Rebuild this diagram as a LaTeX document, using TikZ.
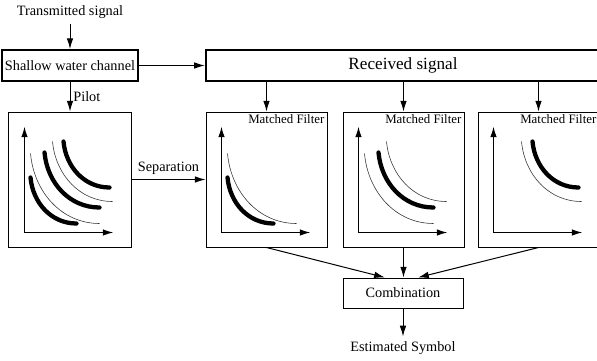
\documentclass[tikz,border=0pt]{standalone}
\usepackage{fontspec}
\setmainfont{Liberation Serif}
\usetikzlibrary{arrows.meta,calc,positioning}

\begin{document}
\begin{tikzpicture}[x=0.7pt,y=-0.7pt,
    >={Latex[length=7.5pt,width=4.6pt]},
    blk/.style={draw,line width=1.6pt,inner sep=2pt,minimum height=21.5pt},
    plotbox/.style={draw,line width=0.7pt,minimum width=84.7pt,minimum height=94.5pt},
    conn/.style={->,line width=0.7pt},
    axis/.style={{Latex[length=7.5pt,width=4.6pt]}-{Latex[length=7.5pt,width=4.6pt]},line width=0.9pt},
    fatcurve/.style={line width=3pt,line cap=round},
    thincurve/.style={line width=0.4pt,black!80}]
    \useasboundingbox (0,0) rectangle (597,360);
    \node (tx) at (70,12) {Transmitted signal};
    \node[blk,minimum width=95.2pt] (chan) at (70,65.5) {Shallow water channel};
    \node[blk,minimum width=275.8pt,font=\large] (rx) at (403,65.5) {Received signal};
    \node[plotbox,minimum width=85.4pt] (pilot) at (70,179.5) {};
    \node[plotbox] (mf1) at (266.5,179.5) {};
    \node[plotbox] (mf2) at (403.5,179.5) {};
    \node[plotbox] (mf3) at (538.5,179.5) {};
    \node[draw,line width=0.7pt,minimum width=84pt,minimum height=21pt] (comb) at (403,293) {Combination};
    \node (est) at (403,348) {Estimated Symbol};
    \foreach \b in {mf1,mf2,mf3} \node[font=\small,anchor=north east,inner sep=2pt] (\b-lbl) at (\b.north east) {Matched Filter};
    % axes and channel curves in each box
    \foreach \b in {pilot,mf1,mf2,mf3} \draw[axis,shift={(\b.north west)}] (16,15) -- (16,121) -- (105,121);
    \foreach \b/\s/\x/\y/\X/\Y in {pilot/fatcurve/22/66/68/112, pilot/thincurve/22/42/91/112,
        pilot/fatcurve/36/41/91/96, pilot/thincurve/44/30/104/90, pilot/fatcurve/55/30/101/76,
        mf1/fatcurve/22/66/68/112, mf1/thincurve/22/42/91/112,
        mf2/thincurve/22/42/91/112, mf2/fatcurve/36/41/91/96, mf2/thincurve/44/30/104/90,
        mf3/thincurve/44/30/104/90, mf3/fatcurve/55/30/101/76}
        \draw[\s,shift={(\b.north west)}] (\x,\y) .. controls +({0.05*(\X-\x)},{0.55*(\Y-\y)}) and +({-0.55*(\X-\x)},0) .. (\X,\Y);
    \draw[conn] (tx) -- (chan);
    \draw[conn] (chan) -- (rx);
    \draw[conn] (chan) -- node[right,inner sep=2pt] {Pilot} (pilot);
    \draw[conn] (pilot) -- node[above] {Separation} (mf1);
    \foreach \b in {mf1,mf2,mf3} \draw[conn] (rx.south -| \b) -- (\b);
    \draw[conn] (mf1.south) -- ($(comb.north west)!0.35!(comb.north east)$);
    \draw[conn] (mf2.south) -- (comb.north -| mf2);
    \draw[conn] (mf3.south) -- ($(comb.north west)!0.625!(comb.north east)$);
    \draw[conn] (comb) -- (est);
\end{tikzpicture}
\end{document}
